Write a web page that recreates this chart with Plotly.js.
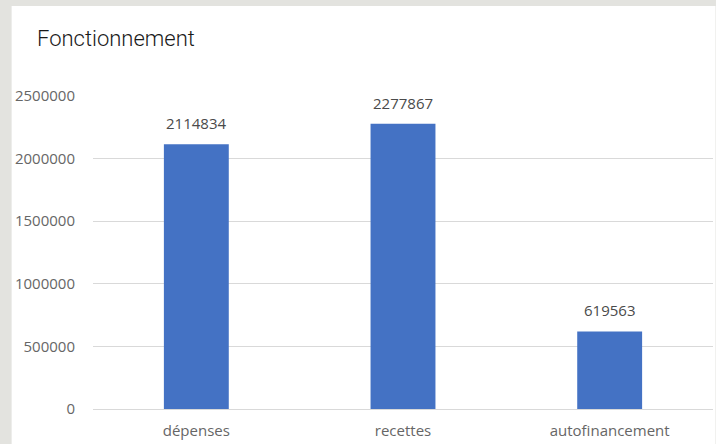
<!DOCTYPE html>
<html><head><meta charset="utf-8">
<script src="https://cdn.plot.ly/plotly-3.0.1.min.js"></script>
<style>html,body{margin:0;padding:0;background:#e3e3df;}#c{width:716px;height:444px;}</style>
</head><body><div id="c"></div>
<script>
const categories = ["dépenses", "recettes", "autofinancement"];
const values = [2114834, 2277867, 619563];
const tickVals = [0, 500000, 1000000, 1500000, 2000000, 2500000];
const tickText = ["0", "500000", "1000000", "1500000", "2000000", "2500000"];

const W = 716, H = 444;
const m = {l: 92.5, r: 2.5, t: 96, b: 35};
const pw = W - m.l - m.r, ph = H - m.t - m.b;
const px = x => (x - m.l) / pw;
const py = y => (H - m.b - y) / ph;

const labels = categories.map((c, i) => ({
  x: c, y: values[i], xref: 'x', yref: 'y', text: String(values[i]),
  showarrow: false, yanchor: 'bottom', yshift: 9,
  font: {family: 'Open Sans', size: 15, color: '#4a4a4a'}
}));

Plotly.newPlot('c', [{
  type: 'bar', x: categories, y: values,
  marker: {color: '#4472c4'},
  hoverinfo: 'none'
}], {
  width: W, height: H,
  margin: m,
  paper_bgcolor: '#e3e3df', plot_bgcolor: '#ffffff',
  bargap: 0.686,
  showlegend: false,
  title: {text: 'Fonctionnement', x: 37/W, xanchor: 'left', y: 1 - 38/H, yanchor: 'middle',
    font: {family: 'Roboto', size: 22, weight: 300, color: '#1a1a1a'}},
  xaxis: {type: 'category', showline: false, ticks: '', showgrid: false, ticklabelstandoff: 11,
    tickfont: {family: 'Open Sans', size: 15, color: '#666666'}},
  yaxis: {range: [0, 2500000], tickvals: tickVals, ticktext: tickText,
    showgrid: true, gridcolor: '#d9d9d9', gridwidth: 1, zeroline: true, zerolinecolor: '#d9d9d9',
    showline: false, ticks: '', ticklabelstandoff: 17,
    tickfont: {family: 'Open Sans', size: 15, color: '#666666'}},
  annotations: labels,
  shapes: [{type: 'rect', xref: 'paper', yref: 'paper', layer: 'below',
    x0: px(11), x1: px(716), y0: py(6), y1: py(444),
    fillcolor: '#ffffff', line: {width: 0}}]
}, {displayModeBar: false, staticPlot: true});
</script></body></html>
